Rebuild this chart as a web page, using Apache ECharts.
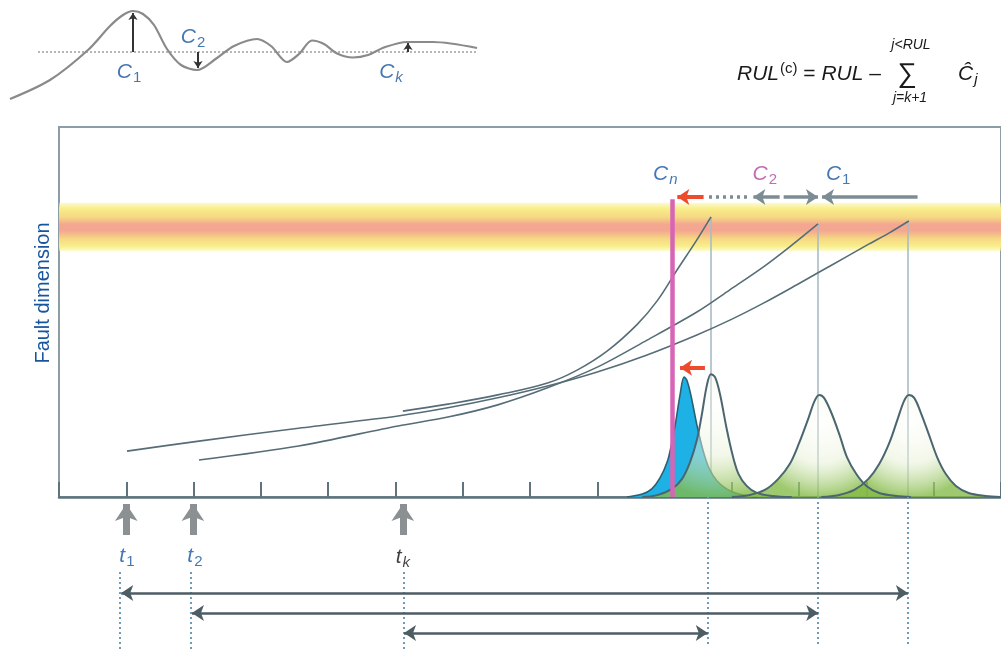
<!DOCTYPE html>
<html><head><meta charset="utf-8">
<script src="https://cdn.jsdelivr.net/npm/echarts@6/dist/echarts.min.js"></script>
<style>html,body{margin:0;padding:0;background:#fff}#c{width:1001px;height:652px}</style>
</head><body><div id="c"></div>
<script>
const FONT = 'Liberation Sans, Arial, sans-serif';
const BLUE = '#17559f';
const MAGENTA = '#b3479d';

// ---------- inset: damped oscillation (time, amplitude) ----------
const insetSignal = [[0.2,-4.7],[4.2,-2.8],[8.0,0.2],[10.2,2.6],[11.5,3.7],[12.5,4.1],[13.5,3.8],[14.6,2.7],[15.9,0.3],[17.3,-1.3],[18.9,-1.8],[20.9,-0.6],[22.6,0.6],[24.9,1.3],[26.3,0.6],[27.9,-1.0],[29.1,-0.2],[30.4,1.15],[31.6,0.8],[32.9,-0.15],[34.5,-0.55],[36.0,-0.3],[37.6,0.45],[39.9,1.0],[42.5,1.0],[46.9,0.4]];
const insetBaseline = [[3.0,0],[47.0,0]];
const insetArrows = [[[12.5,0],[12.5,3.9]],[[19.0,0],[19.0,-1.6]],[[40.0,0],[40.0,0.9]]];
const insetLabels = [['1',12.1,-2.0,false],['2',18.5,1.5,false],['k',38.3,-2.0,true]];

// ---------- main panel (time, fault dimension) ----------
const timeRange = [0, 14];
const failureBand = [6.65, 7.95];
const degradation1 = [[1.01,1.24],[2.08,1.51],[3.56,1.86],[5.04,2.19],[5.78,2.41],[6.52,2.68],[7.26,3.0],[8.00,3.38],[8.74,3.84],[9.48,4.38],[9.97,4.78],[10.47,5.24],[10.96,5.73],[11.30,6.08],[11.70,6.49],[12.04,6.84],[12.34,7.14],[12.63,7.46]];
const degradation2 = [[2.08,1.0],[3.56,1.38],[5.04,1.92],[5.78,2.16],[6.52,2.49],[7.26,2.95],[8.00,3.51],[8.74,4.24],[9.48,5.0],[9.97,5.60],[10.47,6.22],[10.86,6.76],[11.28,7.38]];
const degradationK = [[5.11,2.32],[5.78,2.51],[6.52,2.76],[7.26,3.08],[7.70,3.43],[8.15,3.95],[8.59,4.66],[8.89,5.30],[9.18,6.12],[9.48,6.95],[9.69,7.57]];
const failureTimes = [9.69, 11.28, 12.62];
const failureLevels = [7.57, 7.38, 7.46];
const currentTime = 9.12;
const currentTop = 8.05;
const pdfCorrected = [[8.44,0],[8.67,0.08],[8.81,0.22],[8.93,0.51],[9.04,0.95],[9.11,1.49],[9.17,2.08],[9.23,2.76],[9.29,3.24],[9.33,3.16],[9.39,2.76],[9.48,1.95],[9.57,1.27],[9.66,0.78],[9.78,0.43],[9.92,0.22],[10.10,0.08],[10.37,0]];
const pdfK = [[8.67,0],[8.89,0.05],[9.11,0.22],[9.26,0.49],[9.38,0.95],[9.48,1.54],[9.55,2.19],[9.63,3.03],[9.69,3.32],[9.75,3.24],[9.82,2.81],[9.92,1.87],[10.01,1.14],[10.10,0.62],[10.22,0.30],[10.37,0.11],[10.59,0.03],[10.89,0]];
const pdf2 = [[10.00,0],[10.25,0.05],[10.49,0.19],[10.69,0.49],[10.86,0.89],[11.00,1.46],[11.14,2.14],[11.23,2.60],[11.30,2.76],[11.37,2.68],[11.48,2.27],[11.60,1.68],[11.71,1.08],[11.85,0.62],[12.00,0.30],[12.19,0.11],[12.44,0.03],[12.66,0]];
const pdf1 = [[11.33,0],[11.58,0.05],[11.82,0.19],[12.03,0.49],[12.19,0.89],[12.34,1.46],[12.47,2.14],[12.56,2.60],[12.63,2.76],[12.71,2.68],[12.81,2.27],[12.93,1.68],[13.05,1.08],[13.18,0.62],[13.33,0.30],[13.52,0.11],[13.77,0.03],[13.99,0]];
const redArrows = [[[9.58,8.11],[9.19,8.11]],[[9.60,3.49],[9.23,3.49]]];
const grayArrows = [[[10.71,8.11],[10.32,8.11]],[[10.77,8.11],[11.28,8.11]],[[12.76,8.11],[11.34,8.11]]];
const grayDotted = [[[9.66,8.11],[10.25,8.11]]];
const mainLabels = [['n',9.01,8.73,true,BLUE],['2',10.49,8.73,false,MAGENTA],['1',11.58,8.73,false,BLUE]];

// ---------- bottom strip (time, row) ----------
const predictionTimes = [1.0, 1.99, 5.11];
const timeLabels = [['1',1.01,3.8,false,BLUE],['2',2.02,3.8,false,BLUE],['k',5.11,3.85,true,'#111']];
const startMarks = [0.91, 1.96, 5.13];
const endMarks = [9.64, 11.28, 12.62];
const rulArrows = [[[0.925,6.19],[12.616,6.19]],[[1.976,7.48],[11.284,7.48]],[[5.128,8.77],[9.642,8.77]]];

function richFor(color){
  return {
    c:{fontFamily:FONT,fontSize:21,fontStyle:'italic',color:color},
    s:{fontFamily:FONT,fontSize:15,color:color,verticalAlign:'bottom',padding:[12,0,0,1]},
    si:{fontFamily:FONT,fontSize:15,fontStyle:'italic',color:color,verticalAlign:'bottom',padding:[12,0,0,1]}
  };
}
function labelSeries(gi, letter, sub, x, y, italicSub, color){
  return {type:'scatter', xAxisIndex:gi, yAxisIndex:gi, data:[[x,y]], symbolSize:0, silent:true, z:10,
    label:{show:true, position:'inside', formatter:'{c|'+letter+'}{'+(italicSub?'si':'s')+'|'+sub+'}', rich:richFor(color)}};
}
function arrowSeries(gi, segs, color, width, sym, symSize, type, z){
  return {type:'lines', coordinateSystem:'cartesian2d', xAxisIndex:gi, yAxisIndex:gi, silent:true, z:z||6,
    symbol:sym, symbolSize:symSize,
    lineStyle:{color:color, width:width, type:type||'solid', opacity:1, curveness:0},
    data:segs.map(s=>({coords:s}))};
}
function vsegs(xs, y0, y1){ return xs.map((x,i)=>[[x, Array.isArray(y0)?y0[i]:y0],[x, Array.isArray(y1)?y1[i]:y1]]); }

const greenFill = {type:'radial', x:0.5, y:0.25, r:0.75, colorStops:[
  {offset:0,color:'rgba(255,255,250,0.3)'},{offset:0.55,color:'rgba(230,240,212,0.5)'},{offset:1,color:'rgba(132,186,70,0.78)'}]};

const series = [];
// inset
series.push({type:'line', xAxisIndex:0, yAxisIndex:0, data:insetBaseline, symbol:'none', silent:true,
  lineStyle:{color:'#9aa0a3', width:1.5, type:[2,2]}});
series.push({type:'line', xAxisIndex:0, yAxisIndex:0, data:insetSignal, smooth:0.3, symbol:'none', silent:true,
  lineStyle:{color:'#8a8a8a', width:2.2}});
series.push(arrowSeries(0, insetArrows, '#333', 2, ['none','arrow'], 7));
insetLabels.forEach(l=>series.push(labelSeries(0,'C',l[0],l[1],l[2],l[3],BLUE)));

// main: band + degradation curves
series.push({type:'line', xAxisIndex:1, yAxisIndex:1, data:degradation1, smooth:0.3, symbol:'none', silent:true, z:3,
  lineStyle:{color:'#566d77', width:1.6},
  markArea:{silent:true, z:1, data:[[{xAxis:timeRange[0], yAxis:failureBand[0]},{xAxis:timeRange[1], yAxis:failureBand[1]}]],
    itemStyle:{color:{type:'linear',x:0,y:0,x2:0,y2:1,colorStops:[
      {offset:0,color:'rgba(250,243,150,0.45)'},{offset:0.12,color:'#f8ee8a'},{offset:0.3,color:'#f6d783'},
      {offset:0.45,color:'#f3a790'},{offset:0.58,color:'#f3a790'},{offset:0.74,color:'#f6d783'},
      {offset:0.9,color:'#f8ee8a'},{offset:1,color:'rgba(250,243,150,0.45)'}]}}}});
series.push({type:'line', xAxisIndex:1, yAxisIndex:1, data:degradation2, smooth:0.3, symbol:'none', silent:true, z:3,
  lineStyle:{color:'#566d77', width:1.6}});
series.push({type:'line', xAxisIndex:1, yAxisIndex:1, data:degradationK, smooth:0.4, symbol:'none', silent:true, z:3,
  lineStyle:{color:'#566d77', width:1.6}});
series.push(arrowSeries(1, vsegs(failureTimes, 0, failureLevels), '#a9bcc6', 1.6, ['none','none'], 1, 'solid', 2));
// pdfs
series.push({type:'line', xAxisIndex:1, yAxisIndex:1, data:pdfCorrected, smooth:0.35, symbol:'none', silent:true, z:3,
  lineStyle:{color:'#2d5f72', width:1.6}, areaStyle:{color:'#1eb1e6', opacity:1}});
[pdfK, pdf2, pdf1].forEach(p=>series.push({type:'line', xAxisIndex:1, yAxisIndex:1, data:p, smooth:0.35, symbol:'none', silent:true, z:4,
  lineStyle:{color:'#4b6670', width:2}, areaStyle:{color:greenFill, opacity:1}}));
// current-time line and arrows
series.push(arrowSeries(1, [[[currentTime,0],[currentTime,currentTop]]], '#d765b6', 4.5, ['none','none'], 1, 'solid', 7));
series.push(arrowSeries(1, redArrows, '#ee4b2d', 4, ['none','arrow'], 12, 'solid', 8));
series.push(arrowSeries(1, grayArrows, '#7b8c94', 3.5, ['none','arrow'], 12, 'solid', 8));
series.push(arrowSeries(1, grayDotted, '#7b8c94', 3.5, ['none','none'], 1, [3,4], 8));
mainLabels.forEach(l=>series.push(labelSeries(1,'C',l[0],l[1],l[2],l[3],l[4])));

// bottom strip
series.push(arrowSeries(2, vsegs(predictionTimes, 2.45, 0.45), '#8b9093', 7, ['none','arrow'], 17, 'solid', 6));
timeLabels.forEach(l=>series.push(labelSeries(2,'t',l[0],l[1],l[2],l[3],l[4])));
series.push(arrowSeries(2, vsegs(startMarks, 4.84, 10), '#6f9bb6', 2, ['none','none'], 1, [2,3], 5));
series.push(arrowSeries(2, vsegs(endMarks, 0, 9.6), '#6f9bb6', 2, ['none','none'], 1, [2,3], 5));
series.push(arrowSeries(2, rulArrows, '#4d5d64', 2.5, ['arrow','arrow'], 12, 'solid', 6));

const hidden = {show:false};
const option = {
  animation:false,
  backgroundColor:'#ffffff',
  grid:[
    {left:8, top:10, width:470, height:90},
    {left:59, top:127, width:946, height:370, show:true, borderColor:'#8c9da5', borderWidth:2},
    {left:59, top:497, width:946, height:155}
  ],
  xAxis:[
    {type:'value', gridIndex:0, min:0, max:47, show:false},
    {type:'value', gridIndex:1, min:timeRange[0], max:timeRange[1], interval:1,
      axisLine:{show:true, onZero:false, lineStyle:{color:'#5e737c', width:2.5}},
      axisTick:{show:true, inside:true, length:15, lineStyle:{color:'#5e737c', width:2}},
      axisLabel:hidden, splitLine:hidden},
    {type:'value', gridIndex:2, min:timeRange[0], max:timeRange[1], show:false}
  ],
  yAxis:[
    {type:'value', gridIndex:0, min:-4.8, max:4.2, show:false},
    {type:'value', gridIndex:1, min:0, max:10, show:false},
    {type:'value', gridIndex:2, min:0, max:10, inverse:true, show:false}
  ],
  graphic:[
    {type:'text', x:43, y:293, rotation:Math.PI/2, silent:true,
      style:{text:'Fault dimension', fill:BLUE, fontFamily:FONT, fontSize:20, align:'center', verticalAlign:'middle', textAlign:'center', textVerticalAlign:'middle'}},
    {type:'text', x:737, y:74, silent:true,
      style:{text:'{i|RUL}{p|(c)}{n| = }{i|RUL}{n| –}', align:'left', verticalAlign:'middle', textAlign:'left', textVerticalAlign:'middle',
        rich:{i:{fontFamily:FONT,fontSize:21,fontStyle:'italic',fill:'#1a1a1a',color:'#1a1a1a'},
              p:{fontFamily:FONT,fontSize:15,fill:'#1a1a1a',color:'#1a1a1a',verticalAlign:'top',padding:[0,0,10,1]},
              n:{fontFamily:FONT,fontSize:21,fill:'#1a1a1a',color:'#1a1a1a'}}}},
    {type:'text', x:907, y:75, silent:true,
      style:{text:'∑', fill:'#1a1a1a', fontFamily:'Liberation Sans, DejaVu Sans, sans-serif', fontSize:27, align:'center', verticalAlign:'middle', textAlign:'center', textVerticalAlign:'middle'}},
    {type:'text', x:911, y:45, silent:true,
      style:{text:'j<RUL', fill:'#1a1a1a', fontFamily:FONT, fontSize:14, fontStyle:'italic', align:'center', verticalAlign:'middle', textAlign:'center', textVerticalAlign:'middle'}},
    {type:'text', x:910, y:98, silent:true,
      style:{text:'j=k+1', fill:'#1a1a1a', fontFamily:FONT, fontSize:14, fontStyle:'italic', align:'center', verticalAlign:'middle', textAlign:'center', textVerticalAlign:'middle'}},
    {type:'text', x:958, y:74, silent:true,
      style:{text:'{i|Ĉ}{s|j}', align:'left', verticalAlign:'middle', textAlign:'left', textVerticalAlign:'middle',
        rich:{i:{fontFamily:FONT,fontSize:21,fontStyle:'italic',fill:'#1a1a1a',color:'#1a1a1a'},
              s:{fontFamily:FONT,fontSize:15,fontStyle:'italic',fill:'#1a1a1a',color:'#1a1a1a',verticalAlign:'bottom',padding:[12,0,0,1]}}}}
  ],
  series:series
};
const chart = echarts.init(document.getElementById('c'));
chart.setOption(option);
</script></body></html>
